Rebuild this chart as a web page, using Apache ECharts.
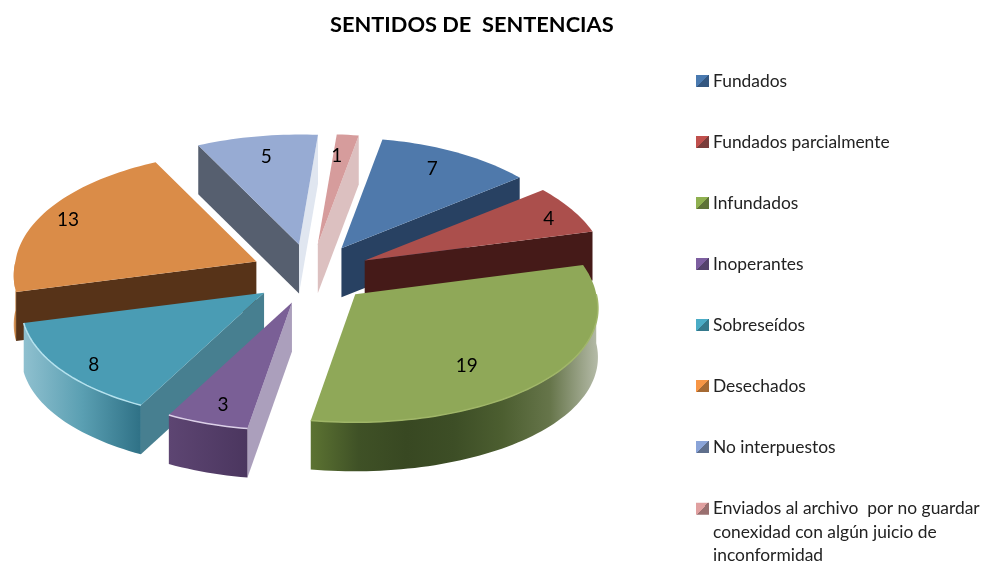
<!DOCTYPE html>
<html>
<head>
<meta charset="utf-8">
<style>html,body{margin:0;padding:0;background:#fff}#c{width:983px;height:562px}</style>
<script src="https://cdn.jsdelivr.net/npm/echarts@6/dist/echarts.min.js"></script>
</head>
<body>
<div id="c"></div>
<script>
var categories = ['Fundados','Fundados parcialmente','Infundados','Inoperantes','Sobreseídos','Desechados','No interpuestos','Enviados al archivo  por no guardar'];
var lastCategoryExtra = ['conexidad con algún juicio de','inconformidad'];
var values = [7,4,19,3,8,13,5,1];
var titleText = 'SENTIDOS DE  SENTENCIAS';

var topColors = ['#4f79ab','#ab4f4c','#8fa858','#7a5f96','#4a9cb4','#da8c48','#97abd3','#d69c9c'];
var startWall = [null,null,null,'#ab9fbc','#477f90','#573318','#565f6f',null];
var endWall = ['#284162','#451a18',null,null,null,null,'#e0e6f0','#dcc0c0'];
var rimColors = [null,null,'#a0b668','#dcd0e8','#b5e2ee',null,null,null];
var arcStops = [
  ['#284162','#284162'],['#451a18','#451a18'],
  ['#5c7332','#3f5126','#384822','#3d4e26','#4c5e30','#66754a','#b5bba8'],
  ['#5d4572','#4b365f'],
  ['#8fc0cf','#5a9fb2','#2f7186'],
  ['#e0a06a','#b87636'],['#565f6f','#565f6f'],['#dcc0c0','#dcc0c0']
];
var legendLight = ['#4a7ab0','#c0504d','#8fb050','#7d5fa0','#4bacc6','#f79646','#8aa4d8','#e0a0a0'];
var legendDark = ['#345780','#7a3d3b','#5f7338','#54436b','#35798c','#a56a34','#5f6f8c','#9a7070'];
var labelFx = [0.79,0.89,0.58,0.81,0.84,0.885,0.73,0.63];
var labelFy = [0.83,0.82,0.85,0.85,0.93,0.88,0.815,0.81];

var CX = 311, CY = 274, EX = 60, EY = 30, RX = 241, DEPTH = 49, SKEW = 6;
var total = values.reduce(function (a, b) { return a + b; }, 0);
var START = 9.5;
var rad = Math.PI / 180;
function project(deg) {
  var u = Math.sin(deg * rad), v = Math.cos(deg * rad);
  var x = u >= 0 ? RX * (1 - 0.12 * v) * u + SKEW * Math.max(v, 0) : RX * (1 - (v > 0 ? 0.07 : 0.12) * v) * u;
  return [x, -(119 * v - 9 * v * v)];
}
var acc = START;
var ranges = values.map(function (val) {
  var s = acc; acc += val / total * 360;
  return [s, acc];
});
function apexOf(i) {
  var m = (ranges[i][0] + ranges[i][1]) / 2;
  return [CX + EX * Math.sin(m * rad), CY - EY * Math.cos(m * rad)];
}
function arcPts(i, a0, a1, dy) {
  var ap = apexOf(i), pts = [];
  var n = Math.max(2, Math.ceil((a1 - a0) / 1.5));
  for (var k = 0; k <= n; k++) {
    var p = project(a0 + (a1 - a0) * k / n);
    pts.push([ap[0] + p[0], ap[1] + p[1] + dy]);
  }
  return pts;
}
function wallPoly(i, deg, color) {
  var ap = apexOf(i), p = project(deg);
  var e = [ap[0] + p[0], ap[1] + p[1]];
  return { type: 'polygon', z2: 1,
    shape: { points: [ap, e, [e[0], e[1] + DEPTH], [ap[0], ap[1] + DEPTH]] },
    style: { fill: color } };
}
function renderSlice(i) {
  return function () {
    var r = ranges[i], ap = apexOf(i), kids = [];
    if (startWall[i]) kids.push(wallPoly(i, r[0], startWall[i]));
    if (endWall[i]) kids.push(wallPoly(i, r[1], endWall[i]));
    var a0 = Math.max(r[0], 90), a1 = Math.min(r[1], 270);
    if (a1 > a0) {
      var top = arcPts(i, a0, a1, 0), bot = arcPts(i, a0, a1, DEPTH).reverse();
      var stops = arcStops[i].map(function (c, k, arr) {
        return { offset: k / (arr.length - 1), color: c };
      });
      kids.push({ type: 'polygon', z2: 2, shape: { points: top.concat(bot) },
        style: { fill: { type: 'linear', x: 0, y: 0, x2: 1, y2: 0, colorStops: stops } } });
    }
    kids.push({ type: 'polygon', z2: 3,
      shape: { points: [ap].concat(arcPts(i, r[0], r[1], 0)) },
      style: { fill: topColors[i] } });
    if (rimColors[i] && a1 > a0) {
      kids.push({ type: 'polyline', z2: 4, shape: { points: arcPts(i, a0, a1, 0) },
        style: { fill: null, stroke: rimColors[i], lineWidth: 1.5 } });
    }
    var m = (r[0] + r[1]) / 2, pm = project(m);
    kids.push({ type: 'text', z2: 5,
      style: { x: ap[0] + pm[0] * labelFx[i], y: ap[1] + pm[1] * labelFy[i], text: String(values[i]),
        fill: '#000', font: '19px Lato', align: 'center', verticalAlign: 'middle' } });
    return { type: 'group', children: kids };
  };
}
var series = categories.map(function (name, i) {
  var m = (ranges[i][0] + ranges[i][1]) / 2;
  return {
    type: 'custom', name: name, coordinateSystem: 'none', silent: true,
    z: 2 + 5 * (1 - Math.cos(m * rad)),
    itemStyle: { color: topColors[i] },
    data: [values[i]], renderItem: renderSlice(i)
  };
});
function legendItem(i) {
  return { name: categories[i], itemStyle: { color: { type: 'linear', x: 0, y: 0, x2: 1, y2: 1,
    colorStops: [{ offset: 0, color: legendLight[i] }, { offset: 0.5, color: legendLight[i] }, { offset: 0.5, color: legendDark[i] }, { offset: 1, color: legendDark[i] }] } } };
}
var chart = echarts.init(document.getElementById('c'));
chart.setOption({
  animation: false,
  backgroundColor: '#fff',
  title: { text: titleText, left: 330, top: 14, padding: 0,
    textStyle: { fontFamily: 'Lato', fontWeight: 'bold', fontSize: 21.8, color: '#000' } },
  legend: [
    { orient: 'vertical', left: 696, top: 72, padding: 0, itemWidth: 13, itemHeight: 12, itemGap: 43, icon: 'rect',
      selectedMode: false, textStyle: { fontFamily: 'Lato', fontSize: 17.4, color: '#222', padding: [0, 0, 0, -1], height: 18, lineHeight: 18 },
      data: [0,1,2,3,4,5,6].map(legendItem) },
    { orient: 'vertical', left: 696, top: 450, padding: 0, itemWidth: 13, itemHeight: 12, icon: 'rect',
      selectedMode: false,
      formatter: function (n) { return '\n\n' + n + '\n' + lastCategoryExtra.join('\n'); },
      textStyle: { fontFamily: 'Lato', fontSize: 17.4, color: '#222', padding: [0, 0, 0, -1], lineHeight: 23.5 },
      data: [legendItem(7)] }
  ],
  series: series
});
</script>
</body>
</html>
